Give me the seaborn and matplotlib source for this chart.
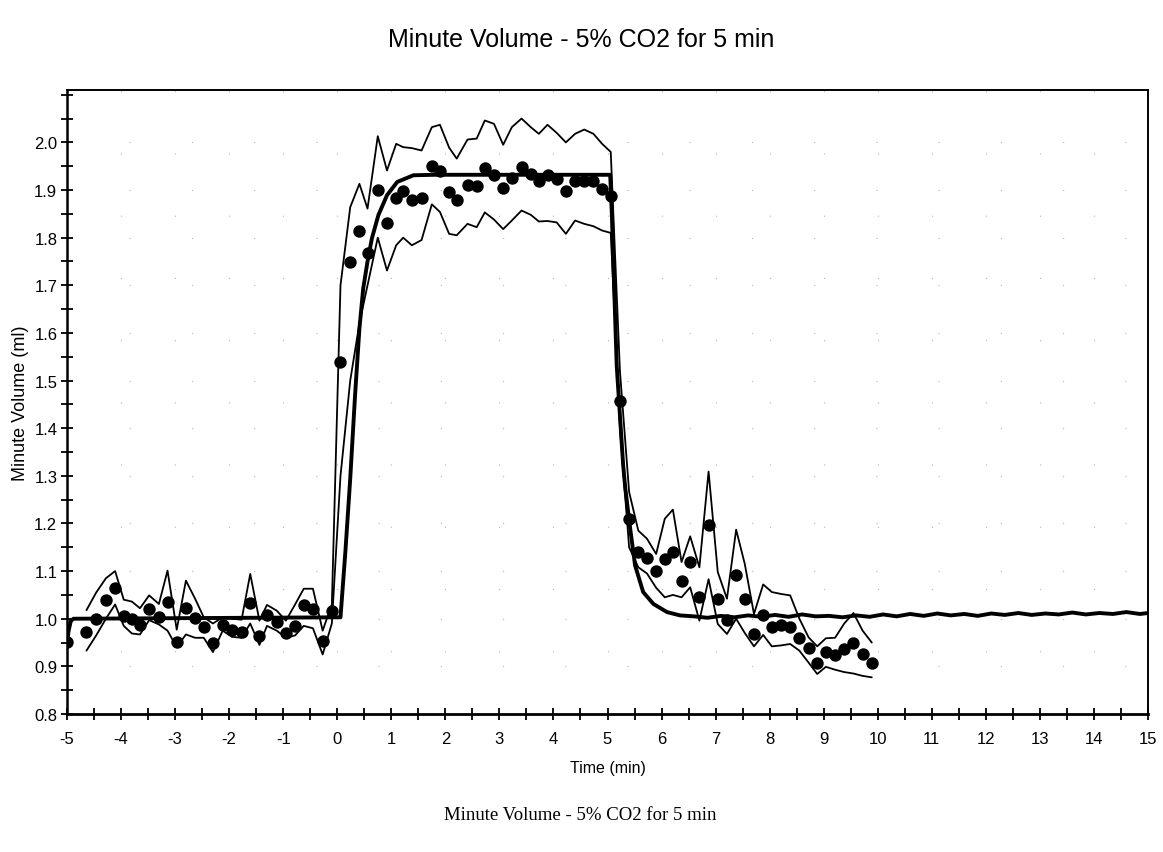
import numpy as np
import pandas as pd
import matplotlib
matplotlib.use("Agg")
import matplotlib.pyplot as plt
import seaborn as sns
from matplotlib.ticker import MultipleLocator, FixedLocator, FormatStrFormatter

# ---------------- data ----------------
time_min = [-5.00, -4.64, -4.46, -4.28, -4.11, -3.95, -3.80, -3.65, -3.48, -3.30,
            -3.14, -2.97, -2.80, -2.63, -2.47, -2.30, -2.12, -1.95, -1.77, -1.61,
            -1.44, -1.30, -1.12, -0.95, -0.78, -0.62, -0.45, -0.27, -0.10,
            0.06, 0.24, 0.41, 0.56, 0.75, 0.92, 1.09, 1.22, 1.38, 1.56,
            1.75, 1.90, 2.07, 2.21, 2.41, 2.58, 2.73, 2.90, 3.07, 3.23,
            3.41, 3.58, 3.73, 3.89, 4.06, 4.23, 4.40, 4.57, 4.74, 4.90, 5.06,
            5.23, 5.40, 5.57, 5.73, 5.90, 6.06, 6.21, 6.37, 6.53, 6.70,
            6.87, 7.04, 7.21, 7.38, 7.54, 7.71, 7.88, 8.04, 8.21, 8.38,
            8.55, 8.72, 8.88, 9.04, 9.21, 9.38, 9.55, 9.72, 9.89]

mv_mean = [0.951, 0.972, 1.000, 1.040, 1.065, 1.006, 1.000, 0.987, 1.020, 1.004,
           1.036, 0.951, 1.023, 1.002, 0.983, 0.949, 0.987, 0.977, 0.972, 1.033,
           0.964, 1.008, 0.993, 0.970, 0.985, 1.028, 1.021, 0.954, 1.017,
           1.539, 1.749, 1.813, 1.768, 1.901, 1.831, 1.883, 1.897, 1.880, 1.883,
           1.951, 1.941, 1.896, 1.880, 1.911, 1.908, 1.946, 1.932, 1.904, 1.925,
           1.949, 1.934, 1.920, 1.931, 1.923, 1.899, 1.920, 1.920, 1.918, 1.903, 1.888,
           1.458, 1.210, 1.141, 1.127, 1.101, 1.126, 1.140, 1.080, 1.119, 1.045,
           1.196, 1.042, 0.998, 1.092, 1.042, 0.968, 1.007, 0.982, 0.986, 0.982,
           0.959, 0.938, 0.907, 0.930, 0.924, 0.937, 0.949, 0.926, 0.907]

mv_upper = [np.nan, 1.018, 1.055, 1.085, 1.100, 1.040, 1.036, 1.022, 1.049, 1.031,
            1.101, 0.977, 1.080, 1.042, 1.003, 0.990, 1.003, 1.000, 0.998, 1.094,
            0.996, 1.029, 1.017, 0.996, 1.030, 1.063, 1.063, 0.975, 1.030,
            1.700, 1.864, 1.913, 1.861, 2.013, 1.941, 1.997, 1.990, 1.988, 1.983,
            2.032, 2.037, 1.989, 1.966, 2.006, 2.008, 2.046, 2.039, 1.995, 2.032,
            2.050, 2.032, 2.018, 2.037, 2.020, 2.000, 2.018, 2.027, 2.018, 1.997, 1.980,
            1.520, 1.266, 1.185, 1.168, 1.136, 1.210, 1.229, 1.119, 1.173, 1.108,
            1.309, 1.098, 1.042, 1.187, 1.115, 1.010, 1.072, 1.056, 1.052, 1.049,
            1.000, 0.961, 0.942, 0.959, 0.960, 0.990, 1.012, 0.975, 0.950]

mv_lower = [np.nan, 0.933, 0.965, 1.000, 1.030, 0.985, 0.969, 0.967, 0.997, 0.988,
            0.975, 0.940, 0.967, 0.960, 0.960, 0.930, 0.975, 0.962, 0.960, 0.990,
            0.945, 0.985, 0.975, 0.960, 0.965, 0.985, 0.980, 0.925, 0.990,
            1.300, 1.500, 1.620, 1.700, 1.800, 1.731, 1.784, 1.800, 1.784, 1.795,
            1.870, 1.854, 1.808, 1.805, 1.829, 1.822, 1.853, 1.838, 1.818, 1.836,
            1.857, 1.848, 1.834, 1.835, 1.832, 1.808, 1.836, 1.829, 1.824, 1.815, 1.810,
            1.400, 1.150, 1.108, 1.095, 1.065, 1.045, 1.050, 1.045, 1.066, 0.996,
            1.083, 0.989, 0.968, 1.000, 0.970, 0.942, 0.966, 0.942, 0.944, 0.947,
            0.933, 0.908, 0.884, 0.899, 0.893, 0.888, 0.885, 0.880, 0.877]

model_time = [-5.00, -4.97, -4.93, -4.88, 0.06, 0.15, 0.24, 0.33, 0.41, 0.48,
              0.56, 0.64, 0.76, 0.92, 1.11, 1.41, 1.80, 5.05, 5.08, 5.11,
              5.17, 5.23, 5.29, 5.33, 5.42, 5.51, 5.66, 5.85, 6.10, 6.34,
              6.60, 6.85, 7.10, 7.35, 7.60, 7.85, 8.10, 8.35, 8.60, 8.85,
              9.10, 9.35, 9.60, 9.85, 10.10, 10.35, 10.60, 10.85, 11.10, 11.35,
              11.60, 11.85, 12.10, 12.35, 12.60, 12.85, 13.10, 13.35, 13.60, 13.85,
              14.10, 14.35, 14.60, 14.85, 15.00]
model_value = [0.947, 0.975, 0.995, 1.000, 1.003, 1.140, 1.294, 1.470, 1.609, 1.693,
               1.750, 1.798, 1.847, 1.889, 1.917, 1.931, 1.932, 1.932, 1.850, 1.742,
               1.532, 1.427, 1.322, 1.273, 1.189, 1.112, 1.056, 1.031, 1.014, 1.007,
               1.005, 1.002, 1.006, 1.003, 1.007, 1.004, 1.008, 1.004, 1.009, 1.005,
               1.006, 1.003, 1.007, 1.004, 1.009, 1.005, 1.010, 1.006, 1.011, 1.007,
               1.010, 1.006, 1.011, 1.008, 1.012, 1.008, 1.011, 1.009, 1.013, 1.009,
               1.012, 1.010, 1.014, 1.010, 1.012]

x_tick_labels = [str(v) for v in range(-5, 16)]
y_tick_values = [0.8, 0.9, 1.0, 1.1, 1.2, 1.3, 1.4, 1.5, 1.6, 1.7, 1.8, 1.9, 2.0]

title_text = "Minute Volume - 5% CO2 for 5 min"

# ---------------- plot ----------------
sns.set_theme(style="white")
plt.rcParams["font.family"] = ["Liberation Sans", "DejaVu Sans"]
plt.rcParams["text.color"] = "black"
plt.rcParams["axes.labelcolor"] = "black"
plt.rcParams["xtick.color"] = "black"
plt.rcParams["ytick.color"] = "black"

W, H = 1163, 853
fig = plt.figure(figsize=(W / 100, H / 100), dpi=100)
ax = fig.add_axes([67 / W, (H - 715) / H, (1148 - 67) / W, (715 - 91) / H])

df_mean = pd.DataFrame({"t": time_min, "mean": mv_mean, "upper": mv_upper, "lower": mv_lower})
df_band = df_mean.dropna()
df_model = pd.DataFrame({"t": model_time, "v": model_value})

sns.lineplot(data=df_band, x="t", y="upper", color="black", lw=1.3,
             estimator=None, sort=False, ax=ax)
sns.lineplot(data=df_band, x="t", y="lower", color="black", lw=1.3,
             estimator=None, sort=False, ax=ax)
sns.lineplot(data=df_model, x="t", y="v", color="black", lw=2.8,
             estimator=None, sort=False, ax=ax)
sns.scatterplot(data=df_mean, x="t", y="mean", color="black", s=80,
                edgecolor="black", linewidth=0, ax=ax, zorder=5)

ax.set_xlim(-5, 15)
ax.set_ylim(0.8, 2.11)
ax.xaxis.set_major_locator(FixedLocator(list(range(-5, 16))))
ax.set_xticklabels(x_tick_labels)
ax.xaxis.set_minor_locator(MultipleLocator(0.5))
ax.yaxis.set_major_locator(FixedLocator(y_tick_values))
ax.yaxis.set_minor_locator(MultipleLocator(0.05))
ax.yaxis.set_major_formatter(FormatStrFormatter("%.1f"))

ax.tick_params(axis="both", which="both", direction="inout", length=8, width=1.3,
               colors="black", bottom=True, left=True, top=False, right=False)
ax.tick_params(axis="x", which="major", labelsize=12, pad=8)
ax.tick_params(axis="y", which="major", labelsize=12, pad=3)
ax.grid(True, which="major", color="#b5b5b5", linestyle=(0, (1, 55)), linewidth=0.8)

for side in ["left", "bottom", "top", "right"]:
    ax.spines[side].set_visible(True)
    ax.spines[side].set_color("black")
    ax.spines[side].set_linewidth(1.4)
ax.spines["bottom"].set_linewidth(2.0)
ax.spines["left"].set_linewidth(1.8)

ax.set_xlabel("Time (min)", fontsize=11.5, labelpad=10)
ax.set_ylabel("Minute Volume (ml)", fontsize=13, labelpad=4)

fig.text(0.5, 1 - 40 / H, title_text, ha="center", va="center", fontsize=18)
fig.text(580 / W, 1 - 816 / H, title_text, ha="center", va="center", fontsize=13.5,
         family=["Liberation Serif", "DejaVu Serif"])

fig.savefig("out.png", dpi=100, facecolor="white")
